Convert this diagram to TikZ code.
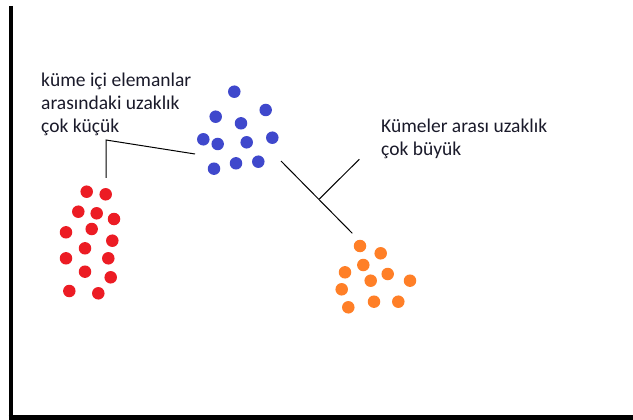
\documentclass[tikz,border=0pt]{standalone}
\usepackage{fontspec}
\setmainfont{Carlito}
\definecolor{dotred}{HTML}{EC1C24}
\definecolor{dotblue}{HTML}{3F48CC}
\definecolor{dotorange}{HTML}{FF7F27}
\definecolor{txt}{HTML}{1A1A2A}
\begin{document}
\begin{tikzpicture}[x=1pt,y=-1pt,
  dot/.style={circle,inner sep=0pt,minimum size=12.5pt},
  rdot/.style={dot,fill=dotred},
  bdot/.style={dot,fill=dotblue},
  odot/.style={dot,fill=dotorange},
  lbl/.style={anchor=north west,inner sep=0pt,align=left,text=txt,
    font=\fontsize{19.5}{23}\selectfont},
  callout/.style={draw=black,line width=1pt},
  axis/.style={draw=black,line width=4.5pt}]
\useasboundingbox (0,0) rectangle (633,420);
\fill[white] (0,0) rectangle (633,420);
% axes
\coordinate (top) at (10.75,6);
\coordinate (corner) at (10.75,417.5);
\coordinate (right) at (633,417.5);
\draw[axis] (top) -- (corner);
\draw[draw=black,line width=5pt] ([xshift=-2.25pt]corner) -- (right);
% red cluster
\foreach \n/\x/\y in {1/86.7/191.7,2/105.7/194.3,3/78.3/211.7,4/96.7/213.3,5/114/219,
  6/66/232.3,7/91.7/229,8/112.3/240.7,9/85/248.3,10/66/258.3,11/108.3/258.3,
  12/85/271.7,13/110.7/277.3,14/69.3/291,15/98.3/293.3}
  \node[rdot] (r\n) at (\x,\y) {};
% blue cluster
\foreach \n/\x/\y in {1/234.3/91.7,2/215.7/116.7,3/265.7/110,4/241/123.3,5/203.3/139.3,
  6/217.7/144,7/246.7/142.3,8/272.3/137.7,9/214/168.7,10/236/163.3,11/258.3/161.7}
  \node[bdot] (b\n) at (\x,\y) {};
% orange cluster
\foreach \n/\x/\y in {1/360/246,2/380.7/253.3,3/363.3/265,4/345/272.3,5/387.7/274,
  6/370.7/280.7,7/410/280.7,8/341.7/289.3,9/348.3/307.3,10/374/301.7,11/398.3/301.7}
  \node[odot] (o\n) at (\x,\y) {};
% labels
\node[lbl] (inner) at (41,73) {küme içi elemanlar\\arasındaki uzaklık\\çok küçük};
\node[lbl] (outer) at (381,119) {Kümeler arası uzaklık\\çok büyük};
% callout left
\coordinate (c1) at (106,140);
\coordinate (c1a) at (106,178);
\coordinate (c1b) at (195,154);
\draw[callout] (c1a) -- (c1) -- (c1b);
% callout right
\coordinate (c2a) at (281,161);
\coordinate (c2b) at (352.3,233.3);
\coordinate (c2m) at (319.3,199);
\coordinate (c2t) at (359.3,159.3);
\draw[callout] (c2a) -- (c2b);
\draw[callout] (c2m) -- (c2t);
\end{tikzpicture}
\end{document}
